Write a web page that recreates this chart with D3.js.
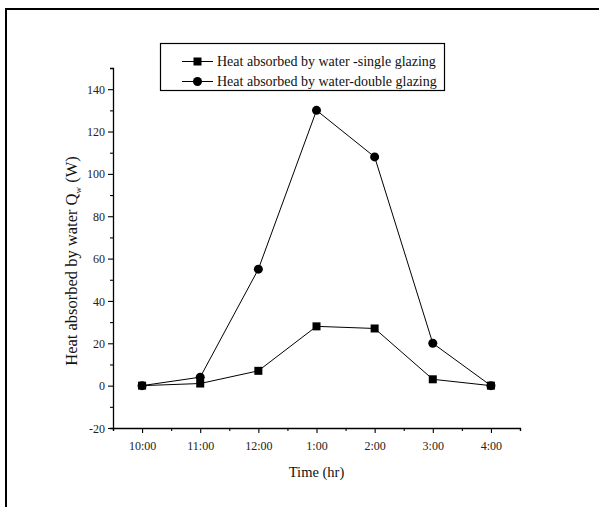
<!DOCTYPE html>
<html>
<head>
<meta charset="utf-8">
<script src="https://cdn.jsdelivr.net/npm/d3@7"></script>
<style>
  html, body { margin: 0; padding: 0; background: #fff; overflow: hidden; }
  svg { display: block; }
  svg text { font-family: "Liberation Serif", "Times New Roman", serif; }
</style>
</head>
<body>
<svg id="chart" width="599" height="507"></svg>
<script>
// data
const times = ['10:00', '11:00', '12:00', '1:00', '2:00', '3:00', '4:00'];
const singleGlazing = [0, 1, 7, 28, 27, 3, 0];
const doubleGlazing = [0, 4, 55, 130, 108, 20, 0];
const yTicks = [-20, 0, 20, 40, 60, 80, 100, 120, 140];
const seriesNames = ['Heat absorbed by water -single glazing', 'Heat absorbed by water-double glazing'];

const serif = 'Liberation Serif, Times New Roman, serif';
const svg = d3.select('#chart');

// outer frame (runs off the right and bottom edges)
svg.append('rect')
  .attr('x', 6).attr('y', 9).attr('width', 640).attr('height', 540)
  .attr('fill', 'none').attr('stroke', '#000').attr('stroke-width', 2);

const plotL = 113, plotR = 520, plotT = 68, plotB = 428;

const x = d3.scaleLinear().domain([-0.5, times.length - 0.5]).range([plotL, plotR]);
const y = d3.scaleLinear().domain([-20, 150]).range([plotB, plotT]);

// y axis
const yAxis = svg.append('g').attr('transform', `translate(${plotL},0)`);
yAxis.call(d3.axisLeft(y).tickValues(d3.range(-20, 151, 10)).tickSize(3).tickFormat(''));
yAxis.attr('font-family', serif);
yAxis.selectAll('.tick line').filter(d => yTicks.includes(d)).attr('x2', -5);
yAxis.selectAll('.tick').filter(d => yTicks.includes(d)).append('text')
  .attr('x', -8).attr('dy', '0.34em').attr('text-anchor', 'end')
  .attr('font-family', serif).attr('fill', '#222').attr('font-size', 12)
  .text(d => d);

// x axis
const xAxis = svg.append('g').attr('transform', `translate(0,${plotB})`);
xAxis.call(d3.axisBottom(x).tickValues(d3.range(-0.5, times.length, 0.5)).tickSize(3).tickFormat(''));
xAxis.attr('font-family', serif);
xAxis.selectAll('.tick line').filter(d => Number.isInteger(d)).attr('y2', 5);
xAxis.selectAll('.tick').filter(d => Number.isInteger(d)).append('text')
  .attr('y', 22).attr('text-anchor', 'middle')
  .attr('font-family', serif).attr('fill', '#222').attr('font-size', 12)
  .text(d => times[d]);

svg.selectAll('.domain').attr('stroke-width', 1.3);
svg.selectAll('.tick line').attr('stroke-width', 1.1);

// axis titles
svg.append('text')
  .attr('x', x(3)).attr('y', 477).attr('text-anchor', 'middle')
  .attr('font-family', serif).attr('font-size', 14.5).attr('fill', '#111')
  .text('Time (hr)');

const yt = svg.append('text')
  .attr('transform', `translate(77,261) rotate(-90)`)
  .attr('text-anchor', 'middle').attr('font-family', serif)
  .attr('font-size', 16.5).attr('fill', '#111');
yt.append('tspan').text('Heat absorbed by water Q');
yt.append('tspan').attr('font-size', 9).attr('dy', 4).text('w');
yt.append('tspan').attr('dy', -4).text(' (W)');

// series
const line = d3.line().x((d, i) => x(i)).y(d => y(d));

svg.append('path').datum(singleGlazing)
  .attr('d', line).attr('fill', 'none').attr('stroke', '#000').attr('stroke-width', 1);
svg.append('g').selectAll('rect').data(singleGlazing).enter().append('rect')
  .attr('x', (d, i) => x(i) - 4).attr('y', d => y(d) - 4)
  .attr('width', 8).attr('height', 8).attr('fill', '#000');

svg.append('path').datum(doubleGlazing)
  .attr('d', line).attr('fill', 'none').attr('stroke', '#000').attr('stroke-width', 1);
svg.append('g').selectAll('circle').data(doubleGlazing).enter().append('circle')
  .attr('cx', (d, i) => x(i)).attr('cy', d => y(d))
  .attr('r', 4.5).attr('fill', '#000');

// legend
const legend = svg.append('g');
legend.append('rect')
  .attr('x', 160.5).attr('y', 43.5).attr('width', 284).attr('height', 47)
  .attr('fill', '#fff').attr('stroke', '#000').attr('stroke-width', 1.2);

seriesNames.forEach((name, i) => {
  const ly = 61.5 + i * 20;
  legend.append('line')
    .attr('x1', 182).attr('x2', 213).attr('y1', ly).attr('y2', ly)
    .attr('stroke', '#000').attr('stroke-width', 1);
  if (i === 0) {
    legend.append('rect').attr('x', 193.5).attr('y', ly - 4).attr('width', 8).attr('height', 8).attr('fill', '#000');
  } else {
    legend.append('circle').attr('cx', 197.5).attr('cy', ly).attr('r', 4.5).attr('fill', '#000');
  }
  legend.append('text')
    .attr('x', 217).attr('y', ly).attr('dy', '0.35em')
    .attr('font-family', serif).attr('font-size', 14).attr('fill', '#111')
    .text(name);
});
</script>
</body>
</html>
